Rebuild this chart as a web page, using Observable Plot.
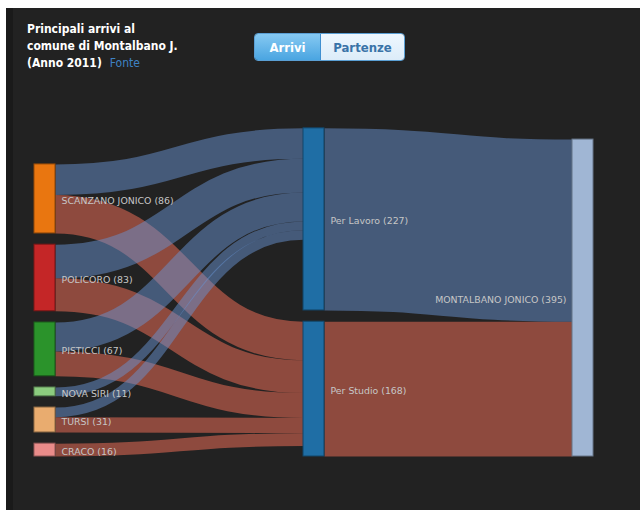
<!DOCTYPE html>
<html>
<head>
<meta charset="utf-8">
<script src="https://cdn.jsdelivr.net/npm/d3@7"></script>
<script src="https://cdn.jsdelivr.net/npm/@observablehq/plot@0.6"></script>
<style>
  html, body { margin: 0; padding: 0; background: #fff; width: 640px; height: 510px; overflow: hidden; }
  #panel { position: absolute; left: 6px; top: 8px; width: 634px; height: 502px; background: #222; border-left: 7px solid #1a1a1a; box-sizing: border-box; }
  #title { position: absolute; left: 27px; top: 21px; color: #fff; font: bold 12px/17px "DejaVu Sans Condensed", "DejaVu Sans", sans-serif; }
  #title .src { color: #3f82c4; font-weight: normal; margin-left: 8px; }
  #toggle { position: absolute; left: 254px; top: 33px; width: 151px; height: 28px; box-sizing: border-box; border: 1px solid #5a9fd4; border-radius: 4px; overflow: hidden; display: flex; font: bold 13px "DejaVu Sans Condensed", "DejaVu Sans", sans-serif; }
  #toggle div { display: flex; align-items: center; justify-content: center; }
  #toggle .on { width: 65px; background: linear-gradient(#86c9f2, #4aa5e1); color: #fff; border-right: 1px solid #3f8fd0; }
  #toggle .off { flex: 1; background: linear-gradient(#eef7fe, #dcecf9); color: #3a74a8; }
  #chart { position: absolute; left: 0; top: 100px; }
</style>
</head>
<body>
<div id="panel"></div>
<div id="title">Principali arrivi al<br>comune di Montalbano J.<br>(Anno 2011)<span class="src">Fonte</span></div>
<div id="toggle"><div class="on">Arrivi</div><div class="off">Partenze</div></div>
<div id="chart"></div>
<script>
// ---- data ----
const sources = ["SCANZANO JONICO", "POLICORO", "PISTICCI", "NOVA SIRI", "TURSI", "CRACO"];
const perLavoro = [38, 42, 36, 11, 12, 0];
const perStudio = [48, 41, 31, 0, 19, 16];
const purposes = ["Per Lavoro", "Per Studio"];
const purposeTotals = [227, 168];
const destination = "MONTALBANO JONICO";
const destinationTotal = 395;

// ---- styles ----
const sourceColors = ["#ff7f0e", "#d62728", "#2ca02c", "#98df8a", "#ffbb78", "#ff9896"];
const purposeColor = "#1f77b4";
const destinationColor = "#aec7e8";
const linkColors = ["#6892d0", "#fa725a"]; // lavoro, studio
const PAD = 14;          // gap between nodes, value units
const NODE_W = 0.078;    // node width, column units

// ---- sankey layout (value units, stacked from the bottom) ----
function stackColumn(values) {
  let y = 0; const out = [];
  for (let i = values.length - 1; i >= 0; i--) { out[i] = [y, y + values[i]]; y += values[i] + PAD; }
  return out;
}
const sourceTotals = sources.map((_, i) => perLavoro[i] + perStudio[i]);
const srcPos = stackColumn(sourceTotals);
const purPos = stackColumn(purposeTotals);
const dstPos = stackColumn([destinationTotal]);

const nodes = [
  ...sources.map((name, i) => ({name, value: sourceTotals[i], col: 0, y0: srcPos[i][0], y1: srcPos[i][1], color: sourceColors[i]})),
  ...purposes.map((name, i) => ({name, value: purposeTotals[i], col: 1, y0: purPos[i][0], y1: purPos[i][1], color: purposeColor})),
  {name: destination, value: destinationTotal, col: 2, y0: dstPos[0][0], y1: dstPos[0][1], color: destinationColor}
];

const links = [];
const series = [perLavoro, perStudio];
const tgtTop = purPos.map(p => p[1]);
sources.forEach((s, i) => {
  let top = srcPos[i][1];
  series.forEach((vals, j) => {
    const v = vals[i];
    if (!v) return;
    links.push({v, j, x1: NODE_W, y1: top - v / 2, x2: 1, y2: tgtTop[j] - v / 2, color: linkColors[j]});
    top -= v;
    tgtTop[j] -= v;
  });
});
let dTop = dstPos[0][1];
purposes.forEach((p, j) => {
  const v = purposeTotals[j];
  links.push({v, j, x1: 1 + NODE_W, y1: (purPos[j][0] + purPos[j][1]) / 2, x2: 2, y2: dTop - v / 2, color: linkColors[j]});
  dTop -= v;
});
// draw studio (red) links first, then lavoro (blue) on top
links.sort((a, b) => b.j - a.j);

const chart = Plot.plot({
  width: 640,
  height: 410,
  marginLeft: 34,
  marginRight: 47,
  marginTop: 19,
  marginBottom: 54,
  style: {background: "transparent", overflow: "visible"},
  x: {domain: [0, 2 + NODE_W], axis: null},
  y: {domain: [0, 420], axis: null},
  marks: [
    Plot.link(links, {
      x1: "x1", y1: "y1", x2: "x2", y2: "y2",
      curve: "bump-x",
      stroke: "color",
      strokeOpacity: 0.5,
      strokeWidth: "v",
      render(index, scales, values, dimensions, context, next) {
        const k = Math.abs(scales.y(0) - scales.y(1));
        return next(index, scales, {...values, strokeWidth: Array.from(values.strokeWidth, w => w * k)}, dimensions, context);
      }
    }),
    Plot.rect(nodes, {
      x1: "col", x2: d => d.col + NODE_W, y1: "y0", y2: "y1",
      fill: "color", fillOpacity: 0.9,
      stroke: d => d3.rgb(d.color).darker(1.5).formatHex()
    }),
    Plot.text(nodes, {
      x: d => d.col === 2 ? d.col : d.col + NODE_W,
      y: d => (d.y0 + d.y1) / 2,
      text: d => `${d.name} (${d.value})`,
      fill: "#c6c6c6",
      fontFamily: "DejaVu Sans, sans-serif",
      fontSize: 9.4,
      dy: 2,
      render(index, scales, values, dimensions, context, next) {
        const g = next(index, scales, values, dimensions, context);
        d3.select(g).selectAll("text").each(function(i) {
          const right = nodes[i].col === 2;
          this.setAttribute("text-anchor", right ? "end" : "start");
          this.setAttribute("dx", right ? -6 : 6);
        });
        return g;
      }
    })
  ]
});
document.getElementById("chart").appendChild(chart);
</script>
</body>
</html>
